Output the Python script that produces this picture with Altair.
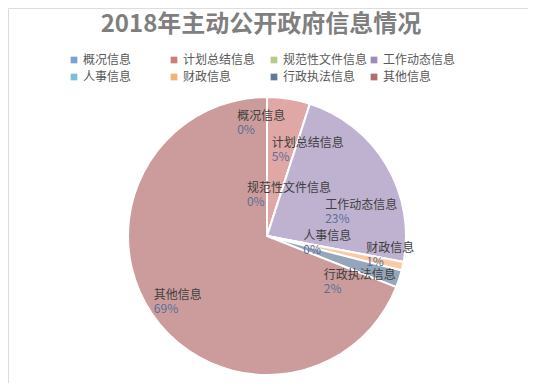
import altair as alt
import pandas as pd

title_text = "2018年主动公开政府信息情况"
categories = ["概况信息", "计划总结信息", "规范性文件信息", "工作动态信息",
              "人事信息", "财政信息", "行政执法信息", "其他信息"]
percents = [0, 5, 0, 23, 0, 1, 2, 69]
colors = ["#4F81BD", "#C0504D", "#9BBB59", "#8064A2",
          "#4BACC6", "#F79646", "#2C4D75", "#9a3a39"]

# label placement relative to each slice (layout only):
# angular shift from the slice middle (in % of the circle) and distance from centre
label_shift = [-4.1, -1.6, -12.2, 2.25, 0.05, -0.5, 5.8, 1.1]
label_r = [117, 86, 46, 63, 37, 101, 73, 131]

FONT = "Noto Sans CJK SC"
W, H = 520, 375
CX, CY, R = 259, 228, 139

df = pd.DataFrame({
    "cat": categories,
    "pct": percents,
    "idx": list(range(len(categories))),
    "shift": label_shift,
    "lr": label_r,
    "plabel": [f"{p}%" for p in percents],
})

theta_scale = alt.Scale(domain=[0, sum(percents)], range=[0, 6.283185307179586])

base = alt.Chart(df).transform_window(
    cum="sum(pct)", sort=[alt.SortField("idx")], frame=[None, 0]
).transform_calculate(
    start="datum.cum - datum.pct",
    lab="datum.cum - datum.pct / 2 + datum.shift",
)

arcs = base.mark_arc(outerRadius=R, stroke="white", strokeWidth=2, fillOpacity=0.5).encode(
    theta=alt.Theta("start:Q", scale=theta_scale, stack=None),
    theta2="cum:Q",
    color=alt.Color(
        "cat:N",
        scale=alt.Scale(domain=categories, range=colors),
        legend=alt.Legend(
            title=None, orient="none", legendX=60, legendY=46, columns=4,
            direction="horizontal",
            symbolType="square", symbolSize=45, symbolOpacity=0.75,
            symbolStrokeWidth=0, labelFont=FONT, labelFontSize=12,
            labelColor="#595959", columnPadding=0, rowPadding=5,
            gridAlign="all", labelOffset=3, labelLimit=200,
        ),
    ),
    x=alt.value(CX), y=alt.value(CY),
)

names = base.mark_text(font=FONT, fontSize=12, color="#404040", dy=-7, align="left").encode(
    theta=alt.Theta("lab:Q", scale=theta_scale, stack=None),
    text="cat:N",
    radius=alt.Radius("lr:Q", scale=None),
    x=alt.value(CX), y=alt.value(CY),
)

pcts = base.mark_text(font=FONT, fontSize=12, color="#5b6f99", dy=7, align="left").encode(
    theta=alt.Theta("lab:Q", scale=theta_scale, stack=None),
    text="plabel:N",
    radius=alt.Radius("lr:Q", scale=None),
    x=alt.value(CX), y=alt.value(CY),
)

title = alt.Chart(pd.DataFrame({"t": [title_text]})).mark_text(
    font=FONT, fontSize=24, fontWeight="bold", color="#7f7f7f"
).encode(text="t:N", x=alt.value(253), y=alt.value(17))

chart = alt.layer(arcs, names, pcts, title).properties(
    width=W, height=H, padding=0,
    autosize=alt.AutoSizeParams(type="none"),
).configure_view(stroke="#d9d9d9", strokeWidth=1).configure(background="white")

chart.save("out.html", embed_options={"renderer": "svg", "actions": False})
